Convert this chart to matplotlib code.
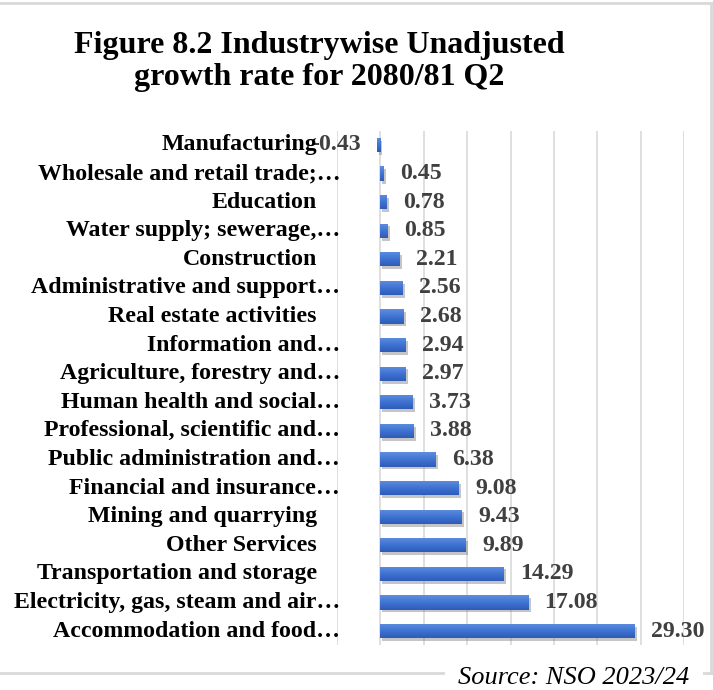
import matplotlib
matplotlib.use("Agg")
import matplotlib.pyplot as plt
import matplotlib.patheffects as pe
import numpy as np
from matplotlib.colors import LinearSegmentedColormap
from matplotlib.lines import Line2D
from matplotlib.transforms import blended_transform_factory, offset_copy

# Growth rate by industry (%), top to bottom as listed
industries = [
    "Manufacturing",
    "Wholesale and retail trade;…",
    "Education",
    "Water supply; sewerage,…",
    "Construction",
    "Administrative and support…",
    "Real estate activities",
    "Information and…",
    "Agriculture, forestry and…",
    "Human health and social…",
    "Professional, scientific and…",
    "Public administration and…",
    "Financial and insurance…",
    "Mining and quarrying",
    "Other Services",
    "Transportation and storage",
    "Electricity, gas, steam and air…",
    "Accommodation and food…",
]
growth = [-0.43, 0.45, 0.78, 0.85, 2.21, 2.56, 2.68, 2.94, 2.97, 3.73,
          3.88, 6.38, 9.08, 9.43, 9.89, 14.29, 17.08, 29.30]

title = "Figure 8.2 Industrywise Unadjusted\ngrowth rate for 2080/81 Q2"
source = "Source: NSO 2023/24"

W, H = 713, 690
serif = "Liberation Serif"
label_size = 17.2

fig = plt.figure(figsize=(W / 100, H / 100), dpi=100)
fig.patch.set_facecolor("white")

ax = fig.add_axes([337 / W, 1 - 645.3 / H, 347 / W, 514.6 / H])
ax.set_facecolor("white")

pos = np.arange(len(industries))
bars = ax.barh(pos, growth, height=0.5, color="#3F70D0", zorder=3)

# soft drop shadow and vertical gradient fill on each bar
grad_cmap = LinearSegmentedColormap.from_list(
    "bar_grad", ["#5E8EDF", "#4074D2", "#2D5BBA"])
grad = np.linspace(0, 1, 64).reshape(-1, 1)
for b in bars:
    b.set_path_effects([pe.SimplePatchShadow(offset=(1.5, -2.0),
                                             shadow_rgbFace="#7F7F7F",
                                             alpha=0.45),
                        pe.Normal()])
    x0, y0 = b.get_x(), b.get_y()
    w, h = b.get_width(), b.get_height()
    im = ax.imshow(grad, cmap=grad_cmap, aspect="auto",
                   extent=(x0, x0 + w, y0 + h, y0), zorder=4,
                   interpolation="bilinear")
    im.set_clip_path(b)

ax.set_xlim(-5, 35)
ax.set_ylim(len(industries) - 0.5, -0.5)
ax.set_xticks(np.arange(-5, 36, 5))
ax.set_yticks([])
ax.tick_params(axis="x", length=0, labelbottom=False)
ax.grid(axis="x", color="#D9D9D9", linewidth=1.2, zorder=0)
for s in ax.spines.values():
    s.set_visible(False)

# value labels just past the end of each bar
for p, v in zip(pos, growth):
    if v >= 0:
        tr = offset_copy(ax.transData, fig=fig, x=16, y=0, units="dots")
        ha = "left"
    else:
        tr = offset_copy(ax.transData, fig=fig, x=-16, y=0, units="dots")
        ha = "right"
    ax.text(v, p, f"{v:.2f}", transform=tr, ha=ha, va="center",
            fontsize=label_size, fontweight="bold", family=serif,
            color="#404040", zorder=5, clip_on=False)

# category labels, right-aligned against the left edge of the plot
lab_tr = blended_transform_factory(ax.transAxes, ax.transData)
for p, name in zip(pos, industries):
    shift = 3 if name.endswith("…") else -20
    tr = offset_copy(lab_tr, fig=fig, x=shift, y=0, units="dots")
    ax.text(0, p, name, transform=tr, ha="right", va="center",
            fontsize=label_size, fontweight="bold", family=serif,
            color="black", zorder=6, clip_on=False)

fig.text(319 / W, 1 - 61.5 / H, title, ha="center", va="center",
         fontsize=23, fontweight="bold", family=serif, color="black",
         linespacing=1.13)

# chart frame
frame_kw = dict(color="#D9D9D9", linewidth=2.0, transform=fig.transFigure)
fig.add_artist(Line2D([0, 711 / W], [1 - 3 / H, 1 - 3 / H], **frame_kw))
fig.add_artist(Line2D([711 / W, 711 / W], [1 - 3 / H, 1 - 673 / H], **frame_kw))
fig.add_artist(Line2D([0, 711 / W], [1 - 673 / H, 1 - 673 / H], **frame_kw))

fig.text(574 / W, 1 - 678 / H, source, ha="center", va="center",
         fontsize=19, fontstyle="italic", family=serif, color="black",
         bbox=dict(boxstyle="square,pad=0.5", facecolor="white",
                   edgecolor="none"))

fig.savefig("out.png", dpi=100, facecolor="white")
